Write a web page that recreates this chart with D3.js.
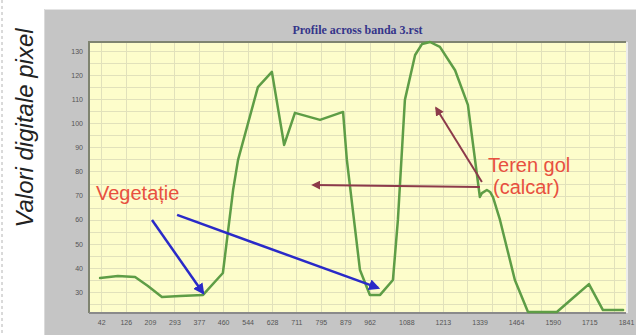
<!DOCTYPE html>
<html>
<head>
<meta charset="utf-8">
<script src="https://cdn.jsdelivr.net/npm/d3@7"></script>
<style>
  html, body { margin: 0; padding: 0; background: #ffffff; }
  svg { display: block; }
</style>
</head>
<body>
<svg id="chart" width="636" height="335"></svg>
<script>
// Profile along band 3: distance along the transect vs. pixel digital value
const distance = [38, 99, 158, 202, 250, 312, 391, 459, 494, 511, 579, 627, 669, 706, 792, 871,
  884, 929, 963, 998, 1042, 1059, 1083, 1118, 1142, 1169, 1203, 1255, 1299, 1340, 1347, 1364,
  1375, 1385, 1409, 1460, 1505, 1556, 1604, 1659, 1714, 1762, 1831];
const pixelValue = [35.8, 36.6, 36.2, 32.5, 27.9, 28.3, 28.8, 37.9, 72.3, 84.8, 115, 121.3, 91,
  104.3, 101.4, 104.7, 84.8, 39.1, 28.8, 28.8, 35, 59.9, 109.7, 128.3, 132.9, 133.7, 131.7, 122,
  107.6, 69.4, 71, 72.3, 71.5, 69.4, 59.9, 35, 21.7, 21.7, 21.7, 27.5, 33.3, 22.5, 22.5];

const xTickLabels = [42, 126, 209, 293, 377, 460, 544, 628, 711, 795, 879, 962,
  1088, 1213, 1339, 1464, 1590, 1715, 1841];
const yTickLabels = [30, 40, 50, 60, 70, 80, 90, 100, 110, 120, 130];

const chartTitle = "Profile across banda 3.rst";
const yTitle = "Valori digitale pixel";

const svg = d3.select("#chart");

// frame geometry
const panel = { x: 44, y: 9 };
const plot = { left: 89, right: 626, top: 42, bottom: 313 };

const x = d3.scaleLinear().domain([0, 1841]).range([plot.left, plot.right]);
const y = d3.scaleLinear().domain([21.3, 133.7]).range([plot.bottom, plot.top]);

// dotted page margin on the far left
svg.append("line")
  .attr("x1", 2).attr("x2", 2).attr("y1", 0).attr("y2", 335)
  .attr("stroke", "#b4b4b4").attr("stroke-width", 1)
  .attr("stroke-dasharray", "3,3");

// rotated axis title
svg.append("text")
  .attr("transform", "translate(33,128) rotate(-90)")
  .attr("text-anchor", "middle")
  .attr("font-family", "Liberation Sans, Arial, sans-serif")
  .attr("font-style", "italic")
  .attr("font-size", 24)
  .attr("fill", "#222")
  .text(yTitle);

// grey window panel
svg.append("rect")
  .attr("x", panel.x).attr("y", panel.y)
  .attr("width", 636 - panel.x).attr("height", 335 - panel.y)
  .attr("fill", "#c5c5c5");
svg.append("line")
  .attr("x1", panel.x).attr("x2", 636).attr("y1", panel.y + 0.5).attr("y2", panel.y + 0.5)
  .attr("stroke", "#e4e4e4");
svg.append("line")
  .attr("x1", panel.x + 0.5).attr("x2", panel.x + 0.5).attr("y1", panel.y).attr("y2", 335)
  .attr("stroke", "#dadada");

// title
svg.append("text")
  .attr("x", (plot.left + plot.right) / 2).attr("y", 34)
  .attr("text-anchor", "middle")
  .attr("font-family", "Liberation Serif, Times New Roman, serif")
  .attr("font-weight", "bold")
  .attr("font-size", 12)
  .attr("fill", "#35358a")
  .text(chartTitle);

// plot background
svg.append("rect")
  .attr("x", plot.left).attr("y", plot.top)
  .attr("width", plot.right - plot.left).attr("height", plot.bottom - plot.top)
  .attr("fill", "#fdfdcb");

// grid
const grid = svg.append("g");
grid.selectAll("line.h")
  .data(d3.range(25, 134, 5))
  .join("line")
  .attr("x1", plot.left).attr("x2", plot.right)
  .attr("y1", d => Math.round(y(d)) + 0.5).attr("y2", d => Math.round(y(d)) + 0.5)
  .attr("stroke", "#e1e1bb").attr("stroke-width", 1);
const gridStep = 1841 / 22;
grid.selectAll("line.v")
  .data(d3.range(0, 22).map(k => (k + 0.5) * gridStep))
  .join("line")
  .attr("x1", d => Math.round(x(d)) + 0.5).attr("x2", d => Math.round(x(d)) + 0.5)
  .attr("y1", plot.top).attr("y2", plot.bottom)
  .attr("stroke", "#e1e1bb").attr("stroke-width", 1);

// plot border (sunken look)
svg.append("path")
  .attr("d", `M${plot.left},${plot.bottom}V${plot.top}H${plot.right}`)
  .attr("fill", "none").attr("stroke", "#7f8470").attr("stroke-width", 2);
svg.append("path")
  .attr("d", `M${plot.left},${plot.bottom}H${plot.right}`)
  .attr("fill", "none").attr("stroke", "#8a8a8a").attr("stroke-width", 2);
svg.append("path")
  .attr("d", `M${plot.right + 1},${plot.top}V${plot.bottom}`)
  .attr("fill", "none").attr("stroke", "#ededed").attr("stroke-width", 2);

// axes
const yAxis = d3.axisLeft(y).tickValues(yTickLabels).tickSize(0).tickPadding(6);
const gy = svg.append("g").attr("transform", `translate(${plot.left},0)`).call(yAxis);
const xAxis = d3.axisBottom(x).tickValues(xTickLabels).tickFormat(d3.format("d"))
  .tickSize(0).tickPadding(7);
const gx = svg.append("g").attr("transform", `translate(0,${plot.bottom})`).call(xAxis);
[gx, gy].forEach(g => {
  g.select(".domain").remove();
  g.selectAll("text")
    .attr("font-family", "Liberation Sans, Arial, sans-serif")
    .attr("font-size", 7)
    .attr("fill", "#555");
});

// profile line
const line = d3.line()
  .x((d, i) => x(distance[i]))
  .y(d => y(d));
svg.append("path")
  .datum(pixelValue)
  .attr("d", line)
  .attr("fill", "none")
  .attr("stroke", "#5e9d46")
  .attr("stroke-width", 2.5)
  .attr("stroke-linejoin", "round")
  .attr("stroke-linecap", "round");

// annotation arrows
const defs = svg.append("defs");
function marker(id, color) {
  defs.append("marker")
    .attr("id", id)
    .attr("viewBox", "0 0 10 10")
    .attr("refX", 8).attr("refY", 5)
    .attr("markerWidth", 4.5).attr("markerHeight", 4.5)
    .attr("markerUnits", "strokeWidth")
    .attr("orient", "auto")
    .append("path")
    .attr("d", "M0,0L10,5L0,10z")
    .attr("fill", color);
}
marker("headBlue", "#2a2ac8");
marker("headRed", "#8c3a4a");

const arrows = [
  { from: [216, 59.9], to: [391, 29.6], color: "#2a2ac8", w: 2.5, head: "headBlue" },
  { from: [302, 62], to: [991, 31.7], color: "#2a2ac8", w: 2.5, head: "headBlue" },
  { from: [1340, 73.6], to: [768, 74.4], color: "#8c3a4a", w: 2, head: "headRed" },
  { from: [1347, 75.6], to: [1190, 106.3], color: "#8c3a4a", w: 2, head: "headRed" }
];
svg.append("g").selectAll("line")
  .data(arrows)
  .join("line")
  .attr("x1", d => x(d.from[0])).attr("y1", d => y(d.from[1]))
  .attr("x2", d => x(d.to[0])).attr("y2", d => y(d.to[1]))
  .attr("stroke", d => d.color)
  .attr("stroke-width", d => d.w)
  .attr("marker-end", d => `url(#${d.head})`);

// annotation labels
const notes = [
  { text: "Vegetație", at: [24, 68.2], anchor: "start" },
  { text: "Teren gol", at: [1368, 79.8], anchor: "start" },
  { text: "(calcar)", at: [1385, 70.6], anchor: "start" }
];
svg.append("g").selectAll("text")
  .data(notes)
  .join("text")
  .attr("x", d => x(d.at[0])).attr("y", d => y(d.at[1]))
  .attr("text-anchor", d => d.anchor)
  .attr("font-family", "Liberation Sans, Arial, sans-serif")
  .attr("font-size", 20)
  .attr("fill", "#e8503f")
  .text(d => d.text);
</script>
</body>
</html>
